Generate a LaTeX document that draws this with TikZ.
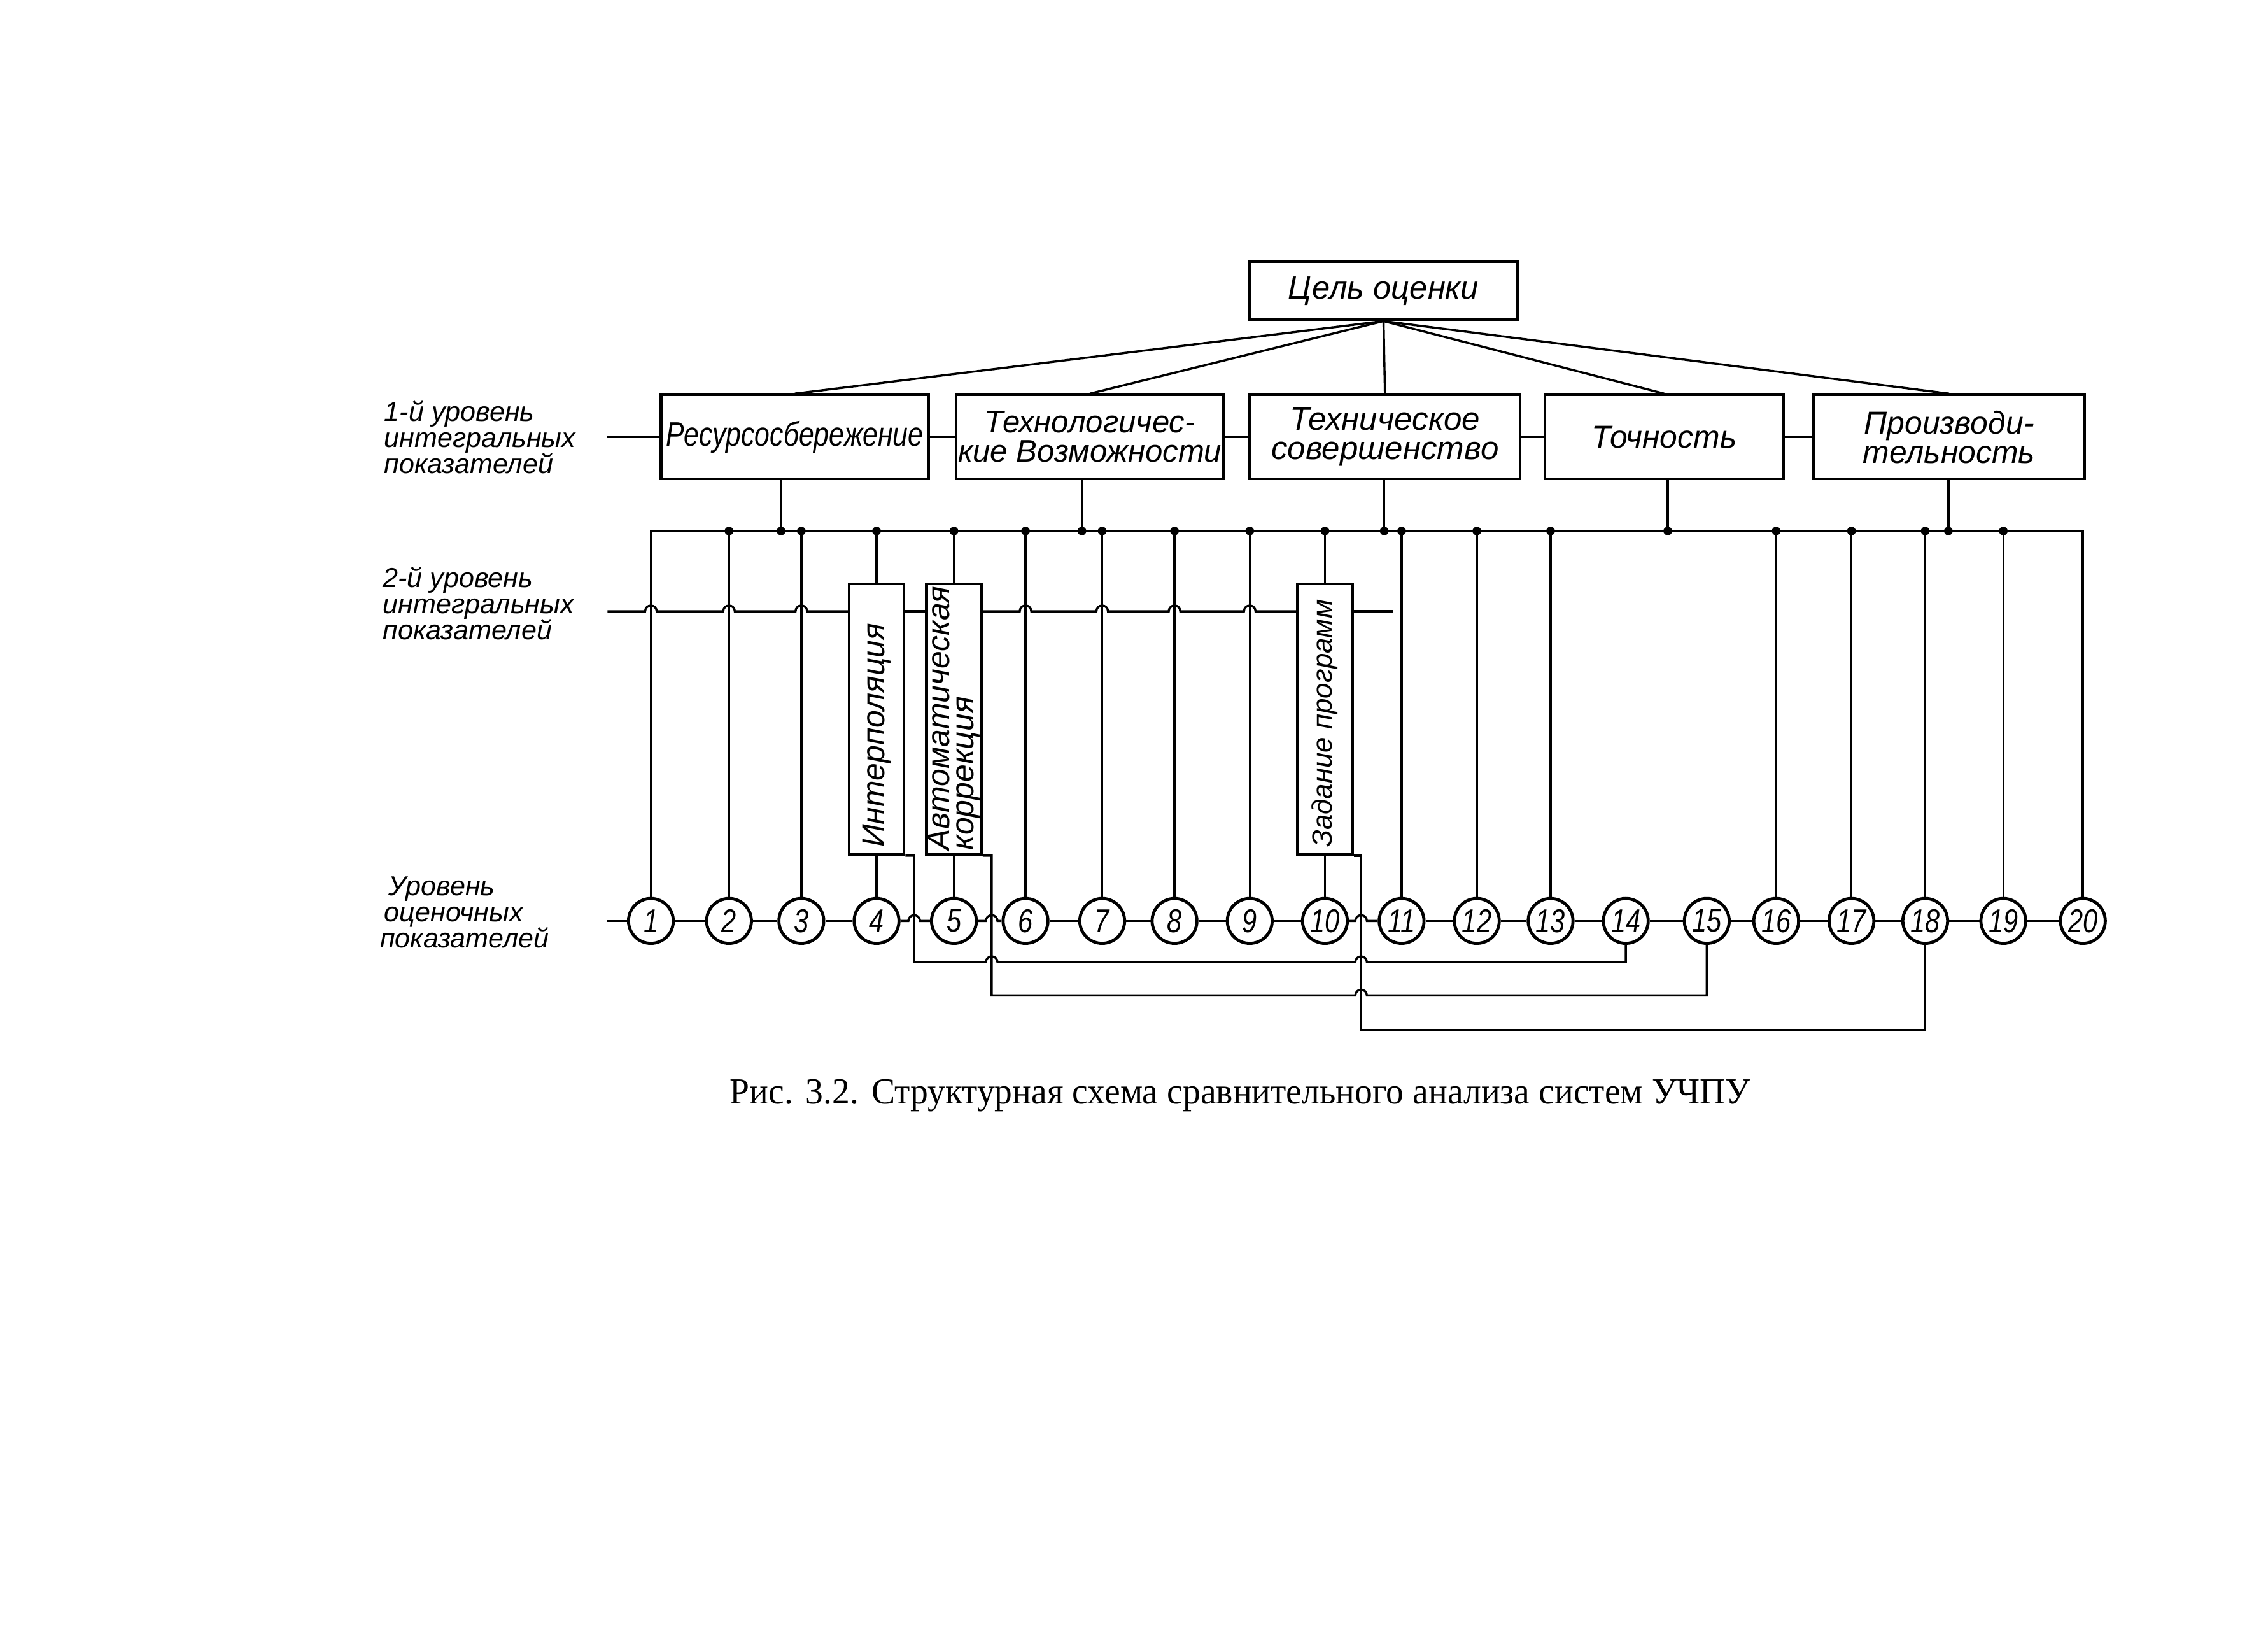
\documentclass[tikz,border=0pt]{standalone}
\usepackage{fontspec}
\setmainfont{Liberation Serif}
\newfontfamily\hand{Liberation Sans}
\newfontfamily\handn[FakeStretch=0.8]{Liberation Sans}
\newfontfamily\capfont[FakeStretch=0.96]{Liberation Serif}
\usetikzlibrary{calc}
\begin{document}
\begin{tikzpicture}[x=0.2mm,y=-0.2mm,line width=0.85pt,
  box/.style={draw,line width=1.05pt,inner sep=0pt,align=center,minimum height=11.6mm},
  vbox/.style={draw,line width=1.05pt,inner sep=0pt,minimum width=7.6mm,minimum height=37.4mm},
  vtxt/.style={rotate=90,anchor=west,inner sep=0pt,align=left},
  num/.style={draw,circle,line width=1.2pt,minimum size=6.2mm,inner sep=0pt,font=\handn\itshape\fontsize{13}{13}\selectfont},
  lbl/.style={anchor=base west,inner sep=0pt,font=\hand\itshape\fontsize{10.8}{12}\selectfont},
]
\fill[white] (0,0) rectangle (1568,1131);
\useasboundingbox (0,0) rectangle (1568,1131);

% ---- top goal box
\node[box,minimum width=37mm,minimum height=8mm,font=\hand\itshape\fontsize{12.7}{13}\selectfont] (goal) at (956.5,201) {Цель оценки};

% ---- level 1 boxes
\node[box,minimum width=37mm,font=\handn\itshape\fontsize{13.4}{11.5}\selectfont] (res) at (549.5,302) {Ресурсосбережение};
\node[box,minimum width=37mm,font=\hand\itshape\fontsize{12.3}{11.5}\selectfont] (tech) at (753.5,302) {Технологичес-\\кие Возможности};
\node[box,minimum width=37.4mm,font=\hand\itshape\fontsize{12.8}{11.5}\selectfont] (sov) at (957.5,302) {Техническое\\совершенство};
\node[box,minimum width=33mm,font=\hand\itshape\fontsize{12.5}{11.5}\selectfont] (toch) at (1150.5,302) {Точность};
\node[box,minimum width=37.4mm,font=\hand\itshape\fontsize{12.5}{11.5}\selectfont] (proiz) at (1347.5,302) {Производи-\\тельность};

\foreach \b in {res,tech,sov,toch,proiz} \draw (goal.south) -- (\b.north);

% ---- level 1 horizontal line
\coordinate (l1s) at (420,302);
\draw (l1s) -- (res.west);
\draw (res.east) -- (tech.west);
\draw (tech.east) -- (sov.west);
\draw (sov.east) -- (toch.west);
\draw (toch.east) -- (proiz.west);

% ---- left labels
\node[lbl] (a1) at (265,291) {1-й уровень};
\node[lbl] (a2) at (265,309) {интегральных};
\node[lbl] (a3) at (265,327) {показателей};
\node[lbl] (b1) at (264,406) {2-й уровень};
\node[lbl] (b2) at (264,424) {интегральных};
\node[lbl] (b3) at (264,442) {показателей};
\node[lbl] (e1) at (268,619) {Уровень};
\node[lbl] (e2) at (265,637) {оценочных};
\node[lbl] (e3) at (262,655) {показателей};

% ---- level 2 boxes
\node[vbox] (interp) at (606,497) {};
\node[vbox] (avt) at (659.5,497) {};
\node[vbox] (zad) at (916,497) {};
\node[vtxt,font=\hand\itshape\fontsize{12.5}{10}\selectfont] (interp-t) at ($(interp.south)+(0,-5)$) {Интерполяция};
\node[vtxt,font=\hand\itshape\fontsize{12.5}{9.6}\selectfont] (avt-t) at ($(avt.south)+(0,-3)$) {Автоматическая\\коррекция};
\node[vtxt,font=\hand\itshape\fontsize{11}{10}\selectfont] (zad-t) at ($(zad.south)+(0,-5)$) {Задание программ};

% ---- evaluation circles
\foreach \i/\x in {1/450,2/504,3/554,4/606,5/659.5,6/709,7/762,8/812,9/864,10/916,
                   11/969,12/1021,13/1072,14/1124,15/1180,16/1228,17/1280,18/1331,19/1385,20/1440}
  \node[num] (c\i) at (\x,636.5) {\i};

% ---- bus
\coordinate (busL) at (450,367);
\draw (c1.north) -- (c1.north |- busL) -- (c20.north |- busL) -- (c20.north);
\coordinate (jr) at (540,367);
\coordinate (jt) at (748,367);
\coordinate (js) at (957,367);
\coordinate (jc) at (1153,367);
\coordinate (jp) at (1347,367);
\draw (res.south -| jr) -- (jr);
\draw (tech.south -| jt) -- (jt);
\draw (sov.south -| js) -- (js);
\draw (toch.south -| jc) -- (jc);
\draw (proiz.south -| jp) -- (jp);

\foreach \i in {2,3,6,7,8,9,11,12,13,16,17,18,19}
  \draw (c\i.north |- busL) -- (c\i.north);
\draw (interp.north |- busL) -- (interp.north);
\draw (interp.south) -- (c4.north);
\draw (avt.north |- busL) -- (avt.north);
\draw (avt.south) -- (c5.north);
\draw (zad.north |- busL) -- (zad.north);
\draw (zad.south) -- (c10.north);

\foreach \x in {504,540,554,606,659.5,709,748,762,812,864,916,957,969,1021,1072,1153,1228,1280,1331,1347,1385}
  \fill (\x,367) circle[radius=0.6mm];

% ---- level 2 line with hops
\coordinate (l2s) at (420,422.5);
\draw (l2s) -- (446,422.5) arc[start angle=180,delta angle=-180,radius=0.8mm]
  -- (500,422.5) arc[start angle=180,delta angle=-180,radius=0.8mm]
  -- (550,422.5) arc[start angle=180,delta angle=-180,radius=0.8mm]
  -- (interp.west |- l2s);
\draw (interp.east |- l2s) -- (avt.west |- l2s);
\draw (avt.east |- l2s) -- (705,422.5) arc[start angle=180,delta angle=-180,radius=0.8mm]
  -- (758,422.5) arc[start angle=180,delta angle=-180,radius=0.8mm]
  -- (808,422.5) arc[start angle=180,delta angle=-180,radius=0.8mm]
  -- (860,422.5) arc[start angle=180,delta angle=-180,radius=0.8mm]
  -- (zad.west |- l2s);
\coordinate (l2e) at (963,422.5);
\draw (zad.east |- l2s) -- (l2e);

% ---- circle line
\coordinate (l3s) at (420,636.5);
\draw (l3s) -- (c1.west);
\foreach \a/\b in {1/2,2/3,3/4,6/7,7/8,8/9,9/10,11/12,12/13,13/14,14/15,15/16,16/17,17/18,18/19,19/20}
  \draw (c\a.east) -- (c\b.west);
\draw (c4.east) -- (628,636.5) arc[start angle=180,delta angle=-180,radius=0.8mm] -- (c5.west);
\draw (c5.east) -- (681.6,636.5) arc[start angle=180,delta angle=-180,radius=0.8mm] -- (c6.west);
\draw (c10.east) -- (937,636.5) arc[start angle=180,delta angle=-180,radius=0.8mm] -- (c11.west);

% ---- routing lines under the circles
\coordinate (r1) at (632,665);
\coordinate (r2) at (685.6,688);
\coordinate (r3) at (941,712);
\draw (interp.south east) -| (r1) -- (681.6,665) arc[start angle=180,delta angle=-180,radius=0.8mm]
  -- (937,665) arc[start angle=180,delta angle=-180,radius=0.8mm]
  -- (r1 -| c14.south) -- (c14.south);
\draw (avt.south east) -| (r2) -- (937,688) arc[start angle=180,delta angle=-180,radius=0.8mm]
  -- (r2 -| c15.south) -- (c15.south);
\draw (zad.south east) -| (r3) -- (r3 -| c18.south) -- (c18.south);

% ---- caption
\node[anchor=base west,inner sep=0pt,font=\capfont\fontsize{14.5}{15}\selectfont] (cap) at (504,762.7)
  {\makebox[401.5pt][s]{Рис. 3.2. Структурная схема сравнительного анализа систем УЧПУ}};
\end{tikzpicture}
\end{document}
